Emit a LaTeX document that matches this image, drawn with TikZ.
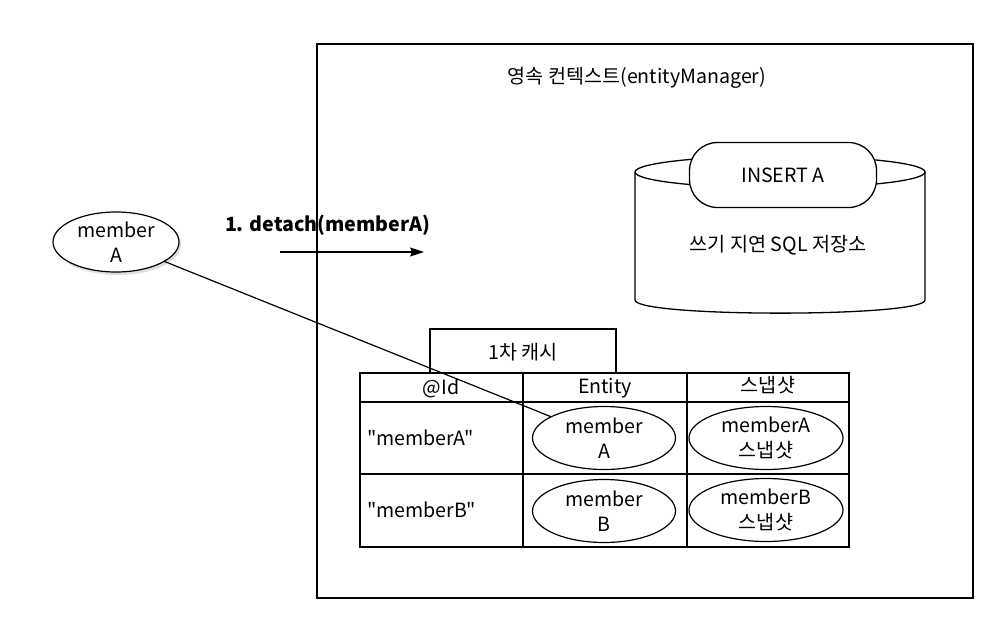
\documentclass[tikz,border=0pt]{standalone}
\usepackage{fontspec}
\newfontfamily\krfont{Noto Sans CJK KR}
\usetikzlibrary{shapes.geometric,arrows.meta,shadows}

\begin{document}
\begin{tikzpicture}[x=1pt,y=-1pt,
  every node/.style={font=\krfont\fontsize{19.6}{25}\selectfont, inner sep=0pt, outer sep=0pt},
  ell/.style={ellipse, draw, line width=1.2pt, minimum width=#1, minimum height=63pt, align=center},
  cell/.style={draw, line width=1.3pt, anchor=north west, minimum width=#1},
  box/.style={draw, line width=1.4pt},
  conn/.style={line width=1.2pt},
  line width=1.2pt]
\useasboundingbox[fill=white] (0,0) rectangle (984,618);

% outer context box
\node[box, anchor=north west, minimum width=656pt, minimum height=554pt] (ctx) at (317,44) {};
\node (title) at (637,78) {영속 컨텍스트(entityManager)};

% cylinder (write-behind SQL store)
\draw[line width=1.3pt] (635,172) -- (635,300) .. controls (635,317.5) and (925,317.5) .. (925,300) -- (925,172);
\draw[line width=1.3pt] (780,172) ellipse[x radius=145, y radius=16];
\node[draw, line width=1.3pt, fill=white, rounded corners=28pt, minimum width=187pt, minimum height=65pt] (ins) at (783,175) {INSERT A};
\node (wsql) at (778,245) {쓰기 지연 SQL 저장소};

% detached member A
\node[ell=126pt, minimum height=60pt, fill=white, drop shadow={opacity=0.25, shadow xshift=2pt, shadow yshift=-3pt}] (ma) at (116,242) {member\\A};

% detach arrow
\node[anchor=west, font=\krfont\fontsize{19.6}{25}\selectfont\bfseries] (det) at (225,225) {1. detach(memberA)};
\coordinate (as) at (280,252);
\coordinate (ae) at (424,252);
\draw[conn, -{Stealth[length=14pt, width=9pt, inset=2pt]}] (as) -- (ae);

% first-level cache tab
\node[box, anchor=south west, minimum width=186pt, minimum height=44pt] (tab) at (430,373) {};
\node (tabtxt) at (523,352) {1차 캐시};

% table
\node[cell=163pt, minimum height=29pt] (h1) at (360,373) {};
\node[cell=164pt, minimum height=29pt] (h2) at (523,373) {};
\node[cell=162pt, minimum height=29pt] (h3) at (687,373) {};
\node[cell=163pt, minimum height=72pt] (r11) at (360,402) {};
\node[cell=164pt, minimum height=72pt] (r12) at (523,402) {};
\node[cell=162pt, minimum height=72pt] (r13) at (687,402) {};
\node[cell=163pt, minimum height=73pt] (r21) at (360,474) {};
\node[cell=164pt, minimum height=73pt] (r22) at (523,474) {};
\node[cell=162pt, minimum height=73pt] (r23) at (687,474) {};

\node (t1) at (441,388) {@Id};
\node (t2) at (605,388) {Entity};
\node (t3) at (768,385) {스냅샷};

\node[anchor=west] (ka) at (367,438) {"memberA"};
\node[anchor=west] (kb) at (367,510) {"memberB"};

\node[ell=143pt, fill=white] (ea) at (604,438) {member\\A};
\node[ell=154pt, fill=white] (sa) at (766,438) {memberA\\스냅샷};
\node[ell=143pt, fill=white] (eb) at (604,511) {member\\B};
\node[ell=154pt, fill=white] (sb) at (766,510) {memberB\\스냅샷};

% reference line
\draw[conn] (ma) -- (ea);
\end{tikzpicture}
\end{document}
